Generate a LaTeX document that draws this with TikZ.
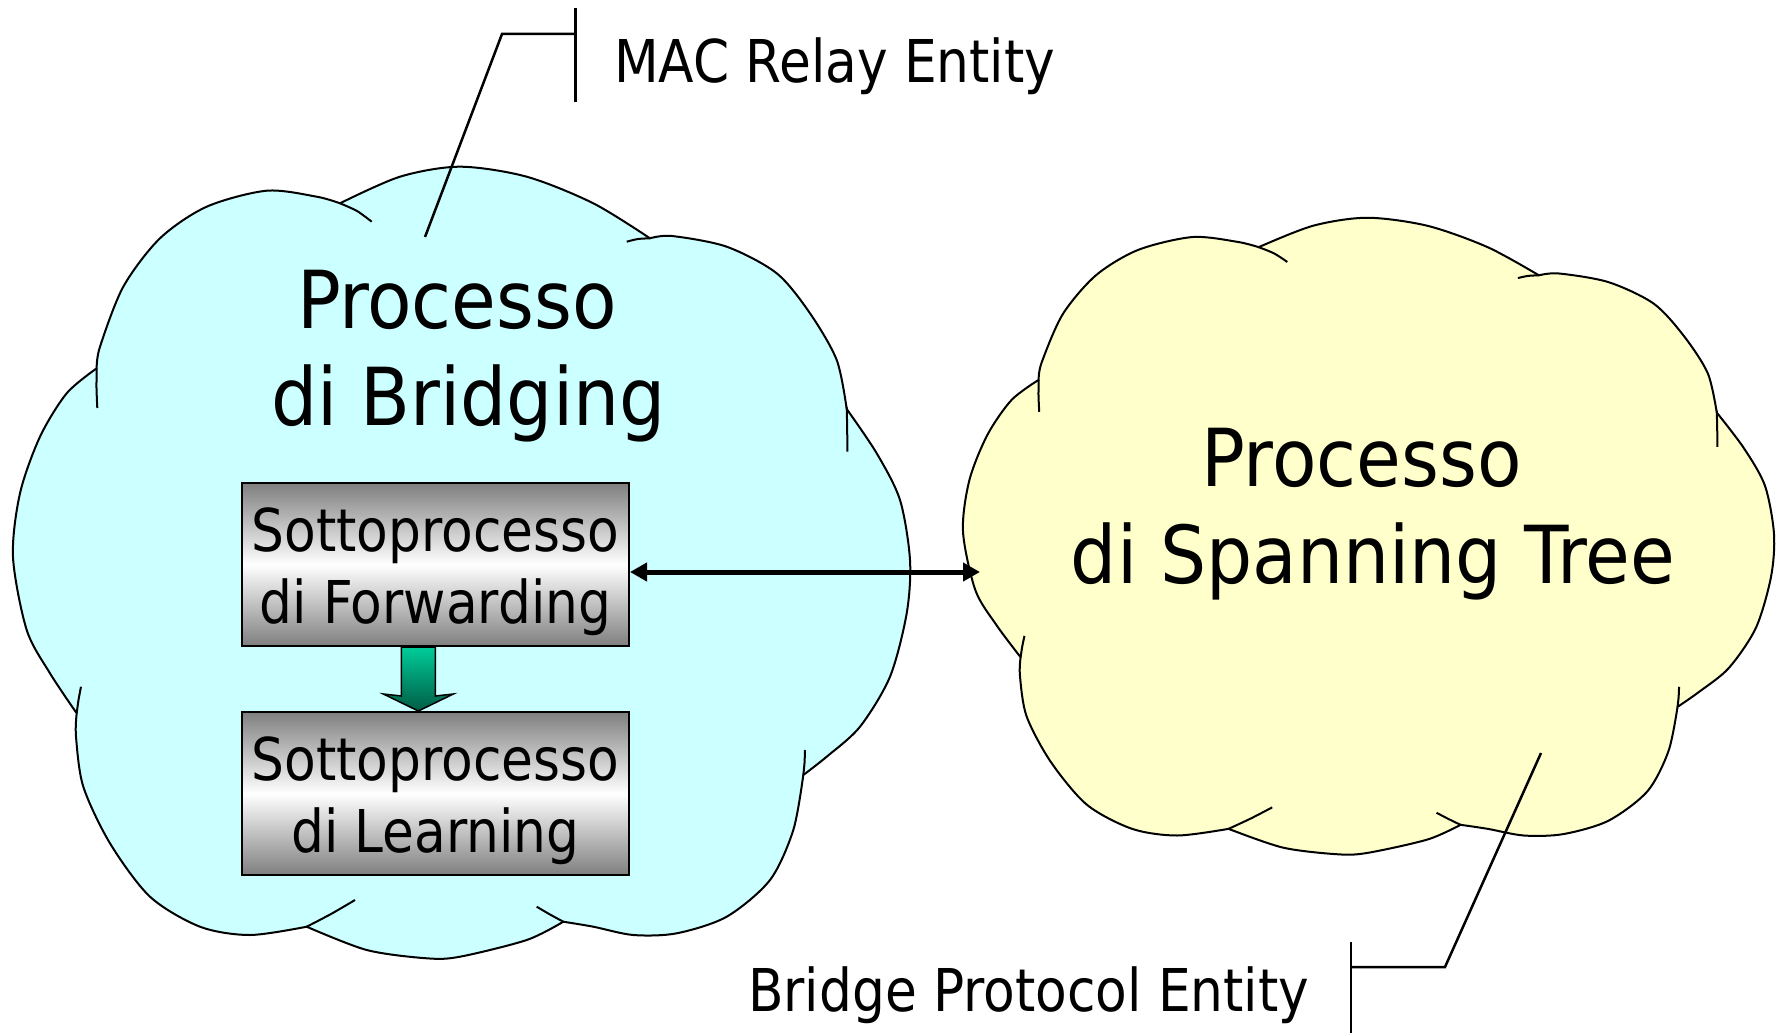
\documentclass[tikz,border=0pt]{standalone}
\usepackage{fontspec}
\setmainfont{DejaVu Sans Condensed}[FakeStretch=0.975]
\newfontfamily\bigfont{DejaVu Sans Condensed}[FakeStretch=1.01]
\usetikzlibrary{arrows.meta,calc}
\definecolor{cyanfill}{HTML}{CCFFFF}
\definecolor{yelfill}{HTML}{FFFFCC}
\definecolor{grtop}{HTML}{00CC99}
\definecolor{grbot}{HTML}{005C45}
\definecolor{boxgray}{HTML}{7F7F7F}
% cloud outline (eight lobes), in the pixel frame of the left cloud
\newcommand\cloudoutline{%
 plot[smooth] coordinates {(96.7,368.3) (100,346.7) (123.3,286.7) (160,238.3) (206.7,206.7) (266.7,190.7) (316.7,196.7) (340,203.3)}
 -- plot[smooth] coordinates {(340,203.3) (400,176.7) (460,166.7) (526.7,176.7) (593.3,203.3) (650,238.3)}
 -- plot[smooth] coordinates {(650,238.3) (672,236) (726.7,246.7) (776.7,273.3) (810,313.3) (836.7,360) (846.7,409)}
 -- plot[smooth] coordinates {(846.7,409) (876.7,453.3) (900,500) (910,560) (906.7,613.3) (890,676.7) (860,726.7) (826.7,756.7) (803.3,775)}
 -- plot[smooth] coordinates {(803.3,775) (793.3,830) (770,880) (726.7,916.7) (676.7,933.3) (633.3,935) (593.3,926.7) (563.3,921.7)}
 -- plot[smooth] coordinates {(563.3,921.7) (526.7,940) (460,956.7) (426.7,958.3) (366.7,950) (306.7,926.7)}
 -- plot[smooth] coordinates {(306.7,926.7) (250,935) (200,926.7) (150,896.7) (110,843.3) (83.3,786.7) (76,736.7) (76.7,713.3)}
 -- plot[smooth] coordinates {(76.7,713.3) (50,673.3) (26.7,630) (13,557) (20,493.3) (40,436.7) (66.7,393.3) (96.7,368.3)}
 -- cycle}
\newcommand\cloudticks{%
 plot[smooth] coordinates {(97.3,408) (96.5,388) (96.7,368.3)}
 plot[smooth] coordinates {(340,203.3) (357,211) (371.7,221.7)}
 plot[smooth] coordinates {(626.7,241.7) (638,239) (650,238.3)}
 plot[smooth] coordinates {(846.7,406.7) (847.2,430) (847.3,451.7)}
 plot[smooth] coordinates {(805,750) (804.5,763) (803.3,775)}
 plot[smooth] coordinates {(563.3,921.7) (550,914.5) (536.7,906.7)}
 plot[smooth] coordinates {(355,900) (331,914) (306.7,926.7)}
 plot[smooth] coordinates {(76.7,713.3) (78.5,700) (81,686.7)}}
\newcommand\sstrut{\rule[-12.2pt]{0pt}{71pt}}
\newcommand\bstrut{\rule[-16.6pt]{0pt}{97pt}}
\tikzset{
 cloudline/.style={draw=black, line width=2pt, line join=round},
 bigtxt/.style={inner sep=0pt, align=center, font=\bigfont\fontsize{80}{97}\selectfont},
 calltxt/.style={inner sep=0pt, font=\fontsize{59}{71}\selectfont},
 procbox/.style={draw=black, line width=2pt, minimum width=387.3pt, minimum height=163pt,
   inner sep=0pt, align=center, font=\fontsize{59}{71}\selectfont,
   top color=boxgray, bottom color=boxgray, middle color=white},
 callline/.style={draw=black, line width=2.5pt},
 dblarrow/.style={draw=black, line width=5pt, {Triangle[length=17pt,width=18pt]}-{Triangle[length=17pt,width=18pt]}},
 blockarrow/.style={draw=black, line width=1.5pt, top color=grtop, bottom color=grbot}
}
\begin{document}
\begin{tikzpicture}[x=1pt,y=-1pt]
\useasboundingbox[fill=white] (0,0) rectangle (1781,1033);
% left cloud
\path[cloudline, fill=cyanfill] \cloudoutline;
\path[cloudline] \cloudticks;
% right cloud (same outline, scaled into its frame)
\begin{scope}[shift={(951.25,83.72)}, xscale=0.90412, yscale=0.80405]
 \path[cloudline, fill=yelfill] \cloudoutline;
 \path[cloudline] \cloudticks;
\end{scope}
% cloud titles
\node[bigtxt] (bridging) at (468.5,345) {\bstrut Processo\hphantom{\ }\\\bstrut di Bridging};
\node[bigtxt] (stp) at (1373,503) {\bstrut Processo\hphantom{\ }\\\bstrut di Spanning Tree};
% sub-process boxes
\node[procbox] (fwd) at (435.35,564.5) {\sstrut Sottoprocesso\\\sstrut di Forwarding};
\node[procbox] (lrn) at (435.35,793.5) {\sstrut Sottoprocesso\\\sstrut di Learning};
% green block arrow
\path[blockarrow] ($(fwd.south)+(-34,0)$) -- (fwd.south) -- ($(fwd.south)+(0,49)$)
  -- ($(lrn.north)+(18,-17)$) -- ($(lrn.north)+(-17,0)$) -- ($(lrn.north)+(-52,-17)$)
  -- ($(fwd.south)+(-34,49)$) -- cycle;
% double arrow to spanning tree
\coordinate (stree) at (980,572);
\draw[dblarrow] ($(fwd.east)+(0,7.5)$) -- (stree);
% callout MAC Relay Entity
\node[calltxt, anchor=base west] (mac) at (614,82) {MAC Relay Entity};
\coordinate (macbarT) at (575.4,8);
\coordinate (macbarB) at (575.4,102);
\coordinate (mackink) at (502,34);
\coordinate (macpt) at (425,237);
\draw[callline] (macbarT) -- (macbarB);
\draw[callline] (macbarT |- mackink) -- (mackink) -- (macpt);
% callout Bridge Protocol Entity
\node[calltxt, anchor=base west] (bpe) at (748,1011) {Bridge Protocol Entity};
\coordinate (bpebarT) at (1351,942);
\coordinate (bpebarB) at (1351,1040);
\coordinate (bpekink) at (1445,967);
\coordinate (bpept) at (1541,753);
\draw[callline] (bpebarT) -- (bpebarB);
\draw[callline] (bpebarT |- bpekink) -- (bpekink) -- (bpept);
\end{tikzpicture}
\end{document}
